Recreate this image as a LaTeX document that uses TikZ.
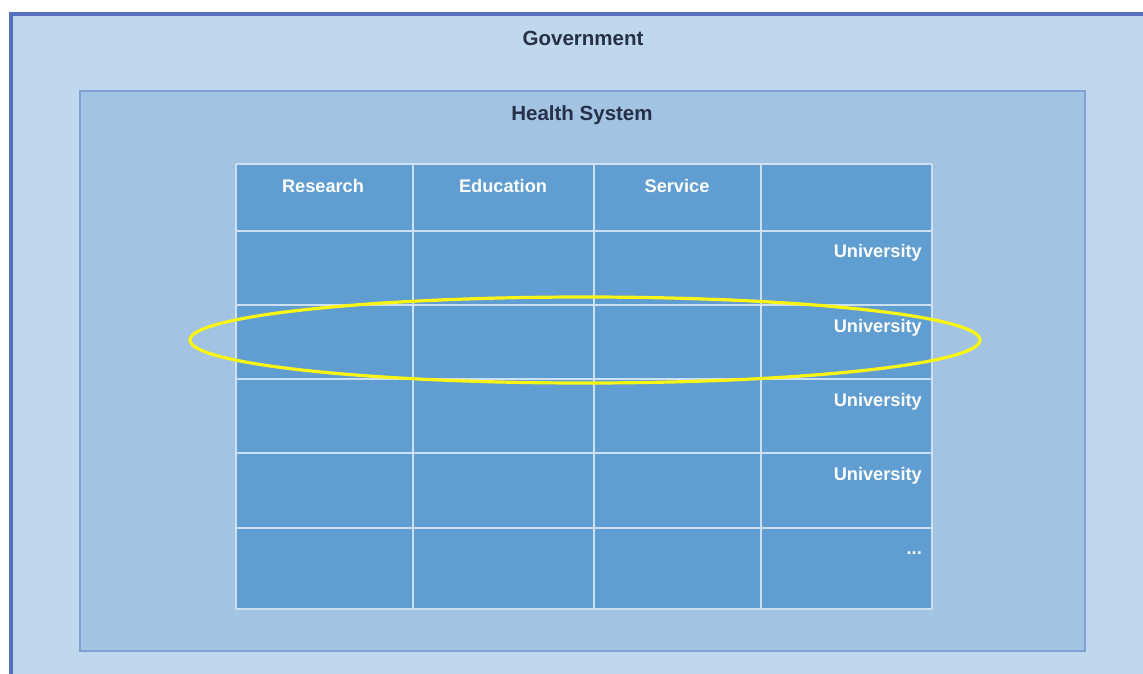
\documentclass[tikz,border=0pt]{standalone}
\usepackage{fontspec}
\setmainfont{Liberation Sans}
\usepackage{xcolor}
\usepackage{tikz}
\usetikzlibrary{positioning,calc}
\definecolor{govfill}{RGB}{192, 216, 237}
\definecolor{govline}{RGB}{84, 112, 190}
\definecolor{healthfill}{RGB}{162, 196, 226}
\definecolor{healthline}{RGB}{128, 160, 210}
\definecolor{cellfill}{RGB}{96, 157, 208}
\definecolor{gridline}{RGB}{205, 224, 242}
\definecolor{titletext}{RGB}{38, 48, 72}
\definecolor{ringyellow}{RGB}{250, 245, 20}

\begin{document}
\begin{tikzpicture}[x=1pt,y=-1pt,
    title/.style={font=\fontsize{20.5}{24}\selectfont\bfseries,text=titletext,inner sep=0pt},
    colhead/.style={font=\fontsize{18.2}{22}\selectfont\bfseries,text=white,inner sep=0pt},
    rowlabel/.style={font=\fontsize{18.2}{22}\selectfont\bfseries,text=white,inner sep=0pt,anchor=east}]
    \useasboundingbox (0,0) rectangle (1143,673);
    \clip (0,0) rectangle (1143,673);

    % Government frame
    \draw[line width=3.4pt,govline,fill=govfill] (11,14) rectangle (1160,690);
    \node[title] (gov) at (583,38) {Government};

    % Health system frame
    \draw[line width=1.5pt,healthline,fill=healthfill] (80,91) rectangle (1085,651);
    \node[title] (health) at (582,115) {Health System};

    % Table of universities
    \fill[cellfill] (236,164) rectangle (932,609);
    \foreach \x in {236,413,594,761,932}
        \draw[line width=1.2pt,gridline] (\x,164) -- (\x,609);
    \foreach \y in {164,231,305,379,453,528,609}
        \draw[line width=1.2pt,gridline] (236,\y) -- (932,\y);

    \node[colhead] (research) at (323,186) {Research};
    \node[colhead] (education) at (503,186) {Education};
    \node[colhead] (service) at (677,186) {Service};

    \node[rowlabel] (uni1) at (922,253) {University};
    \node[rowlabel] (uni2) at (922,328) {University};
    \node[rowlabel] (uni3) at (922,402) {University};
    \node[rowlabel] (uni4) at (922,476) {University};
    \node[rowlabel] (more) at (922,553) {...};

    % Highlighted university
    \draw[line width=3.2pt,ringyellow] (585,340) ellipse (395 and 43);
\end{tikzpicture}
\end{document}
